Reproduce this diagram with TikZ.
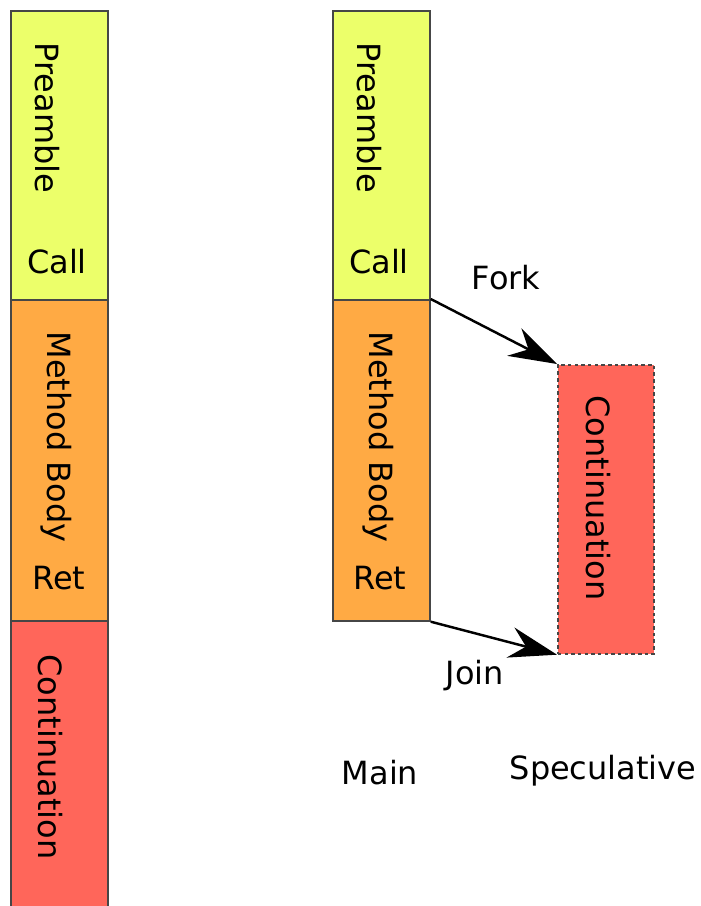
\documentclass[tikz,border=0pt]{standalone}
\usepackage{fontspec}
\setmainfont{DejaVu Sans}
\usetikzlibrary{arrows.meta,positioning}
\definecolor{preYellow}{RGB}{236,255,106}
\definecolor{bodyOrange}{RGB}{255,170,68}
\definecolor{contRed}{RGB}{255,102,90}
\definecolor{edgeGrey}{RGB}{70,70,70}

\begin{document}
\begin{tikzpicture}[
  x=0.02cm, y=-0.02cm,
  every node/.style={font=\fontsize{18.2}{22}\selectfont},
  block/.style={draw=edgeGrey,line width=1pt,inner sep=0pt,minimum width=1.94cm},
  specblock/.style={draw=edgeGrey,line width=1pt,dash pattern=on 2pt off 1.8pt,inner sep=0pt,minimum width=1.92cm},
  vlabel/.style={rotate=-90},
  flow/.style={-{Stealth[length=9.6mm,width=6.2mm,inset=3.2mm]},line width=1.4pt}
]
  \useasboundingbox (0,0) rectangle (700,906);

  % Sequential version (left column).
  \node[block,fill=preYellow,minimum height=5.78cm,anchor=north west] (preL) at (10,10) {};
  \node[block,fill=bodyOrange,minimum height=6.42cm,anchor=north west] (bodyL) at (10,299) {};
  \node[block,fill=contRed,minimum height=6.2cm,anchor=north west] (contL) at (10,620) {};
  \node[vlabel] (preLtxt) at (47,118) {Preamble};
  \node (callLtxt) at (57,262) {Call};
  \node[vlabel] (bodyLtxt) at (56,437) {Method Body};
  \node (retLtxt) at (59,578) {Ret};
  \node[vlabel] (contLtxt) at (50,757) {Continuation};

  % Speculative version (right side).
  \node[block,fill=preYellow,minimum height=5.78cm,anchor=north west] (preR) at (332,10) {};
  \node[block,fill=bodyOrange,minimum height=6.42cm,anchor=north west] (bodyR) at (332,299) {};
  \node[specblock,fill=contRed,minimum height=5.78cm,anchor=north west] (contR) at (557,364) {};
  \node[vlabel] (preRtxt) at (369,118) {Preamble};
  \node (callRtxt) at (379,262) {Call};
  \node[vlabel] (bodyRtxt) at (378,437) {Method Body};
  \node (retRtxt) at (380,578) {Ret};
  \node[vlabel] (contRtxt) at (598,498) {Continuation};

  % Fork and join.
  \draw[flow] (bodyR.north east) -- (contR.north west);
  \draw[flow] (bodyR.south east) -- (contR.south west);
  \node (fork) at (506,278) {Fork};
  \node (join) at (475,676) {Join};

  \node (main) at (380,773) {Main};
  \node (spec) at (603,771) {Speculative};
\end{tikzpicture}
\end{document}
